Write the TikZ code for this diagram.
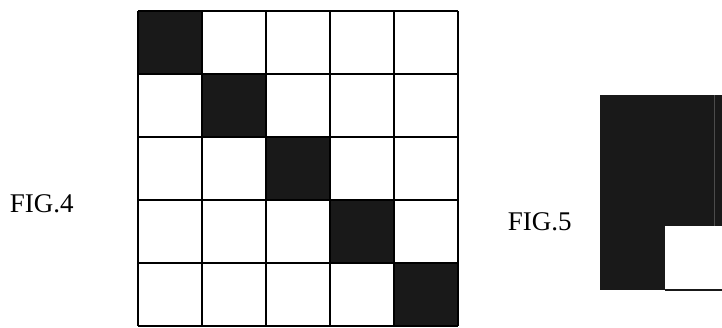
\documentclass[tikz,border=0pt]{standalone}
\usepackage{fontspec}
\setmainfont{Liberation Serif}
\usepackage{tikz}

\begin{document}
\begin{tikzpicture}[x=1pt,y=-1pt,line width=1.8pt,
  figlabel/.style={anchor=base west,inner sep=0pt,font=\fontsize{27}{30}\selectfont},
  dark/.style={fill=black!90}]
\useasboundingbox (0,0) rectangle (722,327);
% FIG.4: five by five grid, diagonal cells filled
\foreach \i in {0,...,4}
  \fill[dark] ({138+64*\i},{11+63*\i}) rectangle +(64,63);
\foreach \i in {0,...,5} {
  \draw ({138+64*\i},11) -- ({138+64*\i},326);
  \draw (138,{11+63*\i}) -- (458,{11+63*\i});
}
\node (fig4) [figlabel] at (9,212) {FIG.4};
% FIG.5: dark block with one open cell
\fill[dark] (600,95) rectangle (722,290);
\fill[white] (665,226) rectangle (722,289);
\draw[black!90,line width=1.2pt] (665,290) -- (722,290);
\draw[black!70,line width=0.8pt] (714,95) -- (714,226);
\node (fig5) [figlabel] at (507,230) {FIG.5};
\end{tikzpicture}
\end{document}
